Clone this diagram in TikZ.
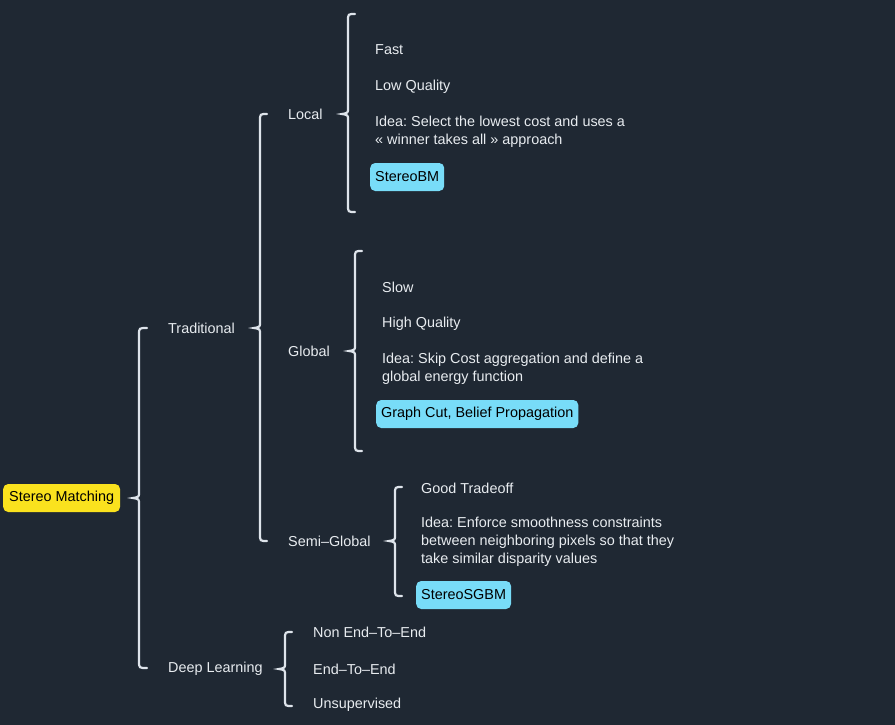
\documentclass[tikz,border=0pt]{standalone}
\usepackage{fontspec}
\setmainfont{Liberation Sans}
\frenchspacing
\usetikzlibrary{calc}
\definecolor{canvasNavy}{RGB}{31,40,51}
\definecolor{labelWhite}{RGB}{232,236,240}
\definecolor{braceWhite}{RGB}{222,228,235}
\definecolor{rootYellow}{RGB}{250,226,30}
\definecolor{tagCyan}{RGB}{120,220,248}
% curly bracket: #1 tip, #2 upper end, #3 lower end
\newcommand{\mapbrace}[3]{%
  \draw[bracestroke] let \p1=(#1), \p2=(#2), \p3=(#3) in
    (\x2,\y2) .. controls (\x1+6pt,\y2) .. (\x1+6pt,\y2-7pt)
    -- (\x1+6pt,\y1+6pt) .. controls (\x1+6pt,\y1+1pt) .. (\x1,\y1)
    .. controls (\x1+6pt,\y1-1pt) .. (\x1+6pt,\y1-6pt)
    -- (\x1+6pt,\y3+7pt) .. controls (\x1+6pt,\y3) .. (\x3,\y3);}
\begin{document}
\begin{tikzpicture}[x=1pt,y=-1pt,
        topic/.style={anchor=west,text=labelWhite,inner sep=0pt,align=left,
                      font=\fontsize{14.4}{18}\selectfont},
        tag/.style={anchor=west,rounded corners=5pt,fill=tagCyan,text=black,
                    inner xsep=5pt,minimum height=28pt,font=\fontsize{14.4}{18}\selectfont},
        bracestroke/.style={draw=braceWhite,line width=2.2pt,line cap=round}
    ]
        \fill[canvasNavy] (0,0) rectangle (895,725);
        \useasboundingbox (0,0) rectangle (895,725);

        \node[tag,fill=rootYellow,inner xsep=6pt] (stereo) at (3,498) {Stereo Matching};
        \node[topic] (traditional) at (168,328) {Traditional};
        \node[topic] (deep) at (168,669) {Deep Learning};

        \node[topic] (local) at (288,114) {Local};
        \node[topic] (global) at (288,351) {Global};
        \node[topic] (semiglobal) at (288,541) {Semi–Global};

        \node[topic] (fast) at (375,50) {Fast};
        \node[topic] (lowquality) at (375,87) {Low Quality};
        \node[topic] (localidea) at (375,132) {Idea: Select the lowest cost and uses a\\« winner takes all » approach};
        \node[tag] (stereobm) at (370,177) {StereoBM};

        \node[topic] (slow) at (382,287) {Slow};
        \node[topic] (highquality) at (382,324) {High Quality};
        \node[topic] (globalidea) at (382,369) {Idea: Skip Cost aggregation and define a\\global energy function};
        \node[tag] (graphcut) at (376,414) {Graph Cut, Belief Propagation};

        \node[topic] (tradeoff) at (421,488) {Good Tradeoff};
        \node[topic] (semiidea) at (421,541.5) {Idea: Enforce smoothness constraints\\between neighboring pixels so that they\\take similar disparity values};
        \node[tag] (stereosgbm) at (416,595) {StereoSGBM};

        \node[topic] (nonend) at (313,632) {Non End–To–End};
        \node[topic] (endtoend) at (313,669) {End–To–End};
        \node[topic] (unsupervised) at (313,705) {Unsupervised};

        \coordinate (rootTip) at (133,498);
        \coordinate (rootTop) at (147,328);
        \coordinate (rootBot) at (147,668);
        \coordinate (tradTip) at (254,328);
        \coordinate (tradTop) at (267,114);
        \coordinate (tradBot) at (267,541);
        \coordinate (localTip) at (342,114);
        \coordinate (localTop) at (355,14);
        \coordinate (localBot) at (355,212);
        \coordinate (globalTip) at (349,351);
        \coordinate (globalTop) at (362,251);
        \coordinate (globalBot) at (362,451);
        \coordinate (semiTip) at (389,541);
        \coordinate (semiTop) at (402,487);
        \coordinate (semiBot) at (402,596);
        \coordinate (deepTip) at (279,669);
        \coordinate (deepTop) at (292,632);
        \coordinate (deepBot) at (292,706);

        \mapbrace{rootTip}{rootTop}{rootBot}
        \mapbrace{tradTip}{tradTop}{tradBot}
        \mapbrace{localTip}{localTop}{localBot}
        \mapbrace{globalTip}{globalTop}{globalBot}
        \mapbrace{semiTip}{semiTop}{semiBot}
        \mapbrace{deepTip}{deepTop}{deepBot}
    \end{tikzpicture}
\end{document}
